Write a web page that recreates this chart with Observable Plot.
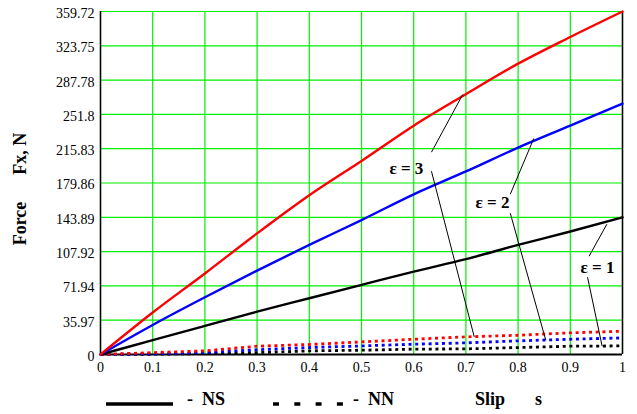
<!DOCTYPE html>
<html>
<head>
<meta charset="utf-8">
<script src="https://cdn.jsdelivr.net/npm/d3@7"></script>
<script src="https://cdn.jsdelivr.net/npm/@observablehq/plot@0.6"></script>
<style>
  html, body { margin: 0; padding: 0; background: #fff; }
  #wrap { width: 637px; position: relative; }
  #legend { position: relative; width: 637px; height: 29px; font-family: "Liberation Serif", serif; font-weight: bold; font-size: 18px; color: #000; }
  #legend .t { position: absolute; top: 4px; white-space: pre; line-height: 20px; }
  #legend svg { position: absolute; top: 0; left: 0; }
</style>
</head>
<body>
<div id="wrap">
  <div id="chart"></div>
  <div id="legend">
    <svg width="637" height="29">
      <line x1="106" x2="173" y1="19" y2="19" stroke="#000" stroke-width="3.5"/>
      <line x1="273" x2="345" y1="19" y2="19" stroke="#000" stroke-width="3.5" stroke-dasharray="6,15.3"/>
    </svg>
    <span class="t" style="left:187px">-  NS</span>
    <span class="t" style="left:353px">-  NN</span>
    <span class="t" style="left:475px">Slip</span>
    <span class="t" style="left:535px">s</span>
  </div>
</div>
<script>
// ---- data ----
const slip = [0, 0.1, 0.2, 0.3, 0.4, 0.5, 0.6, 0.7, 0.8, 0.9, 1];
// solid curves (NS)
const nsEps1 = [0, 15, 30, 45, 59, 73, 87, 100, 115, 129, 143.89];
const nsEps2 = [0, 31, 60, 88, 115, 141, 168, 192, 217, 240, 263];
const nsEps3 = [0, 44, 85, 127, 167, 203, 240, 273, 305, 333, 359.72];
// dotted curves (NN)
const nnEps1 = [0, 0.3, 1, 2, 3.8, 4.5, 5.6, 5.9, 7.3, 8.7, 9];
const nnEps2 = [0, 0.7, 2, 5, 7.3, 9, 10.8, 12.2, 14.3, 16, 17.4];
const nnEps3 = [0, 2, 3.8, 8.7, 10.5, 13.2, 16, 18.5, 20.2, 22.7, 24.4];

const xTicks = [0, 0.1, 0.2, 0.3, 0.4, 0.5, 0.6, 0.7, 0.8, 0.9, 1];
const yTicks = [0, 35.97, 71.94, 107.92, 143.89, 179.86, 215.83, 251.8, 287.78, 323.75, 359.72];

// annotations
const labelText = ["ε = 1", "ε = 2", "ε = 3"];
const labelX = [0.952, 0.751, 0.586];
const labelY = [91.5, 159.7, 195.4];
// leader lines
const leadX1 = [0.936, 0.933, 0.785, 0.785, 0.634, 0.634];
const leadY1 = [103.1, 81.1, 168.1, 148.2, 212.2, 192.2];
const leadX2 = [0.970, 0.961, 0.830, 0.853, 0.694, 0.716];
const leadY2 = [136.6, 8.7, 226.5, 15.0, 272.7, 18.5];

const yTitle = "Force\u00a0\u00a0\u00a0\u00a0\u00a0\u00a0Fx,\u00a0N";

// ---- build tables ----
const series = [
  {name: "NS ε=1", vals: nsEps1, color: "#000000", dotted: false},
  {name: "NS ε=2", vals: nsEps2, color: "#0000ff", dotted: false},
  {name: "NS ε=3", vals: nsEps3, color: "#ff0000", dotted: false},
  {name: "NN ε=1", vals: nnEps1, color: "#000000", dotted: true},
  {name: "NN ε=2", vals: nnEps2, color: "#0000ff", dotted: true},
  {name: "NN ε=3", vals: nnEps3, color: "#ff0000", dotted: true}
];
const solidRows = [], dottedRows = [];
for (const s of series) {
  slip.forEach((x, i) => (s.dotted ? dottedRows : solidRows).push({x, y: s.vals[i], name: s.name, color: s.color}));
}
const labels = labelText.map((t, i) => ({t, x: labelX[i], y: labelY[i]}));
const leaders = leadX1.map((_, i) => ({x1: leadX1[i], y1: leadY1[i], x2: leadX2[i], y2: leadY2[i]}));

const green = "#00f000";

const chart = Plot.plot({
  width: 637,
  height: 385,
  marginLeft: 100,
  marginRight: 15,
  marginTop: 11,
  marginBottom: 31,
  style: {fontFamily: "'Liberation Serif', serif", fontSize: "14px", color: "#000", background: "#fff"},
  x: {domain: [0, 1]},
  y: {domain: [0, 359.72]},
  marks: [
    Plot.ruleX(xTicks, {stroke: green, strokeWidth: 1.2}),
    Plot.ruleY(yTicks, {stroke: green, strokeWidth: 1.2}),
    Plot.axisX({ticks: xTicks, tickSize: 0, tickPadding: 8, tickFormat: d => String(d), label: null, fontSize: 14}),
    Plot.axisY({ticks: yTicks, tickSize: 0, tickPadding: 6, tickFormat: d => String(d), label: null, fontSize: 14, dy: 2}),
    Plot.ruleX([0], {stroke: "#000", strokeWidth: 1.5}),
    Plot.ruleX([1], {stroke: "#000", strokeWidth: 1.5}),
    Plot.ruleY([0], {stroke: "#000", strokeWidth: 2}),
    Plot.line(dottedRows, {x: "x", y: "y", z: "name", stroke: "color", strokeWidth: 2.8, strokeDasharray: "3,3.7", strokeLinecap: "butt"}),
    Plot.line(solidRows, {x: "x", y: "y", z: "name", stroke: "color", strokeWidth: 2.4, curve: "monotone-x"}),
    Plot.link(leaders, {x1: "x1", y1: "y1", x2: "x2", y2: "y2", stroke: "#000", strokeWidth: 1}),
    Plot.text(labels, {x: "x", y: "y", text: "t", fontSize: 17, fontWeight: "bold", fill: "#000"}),
    Plot.text([yTitle], {frameAnchor: "left", text: d => d, rotate: -90, textAnchor: "middle", dx: -80, dy: 6, fontSize: 18, fontWeight: "bold", fill: "#000"})
  ]
});
document.getElementById("chart").appendChild(chart);
</script>
</body>
</html>
